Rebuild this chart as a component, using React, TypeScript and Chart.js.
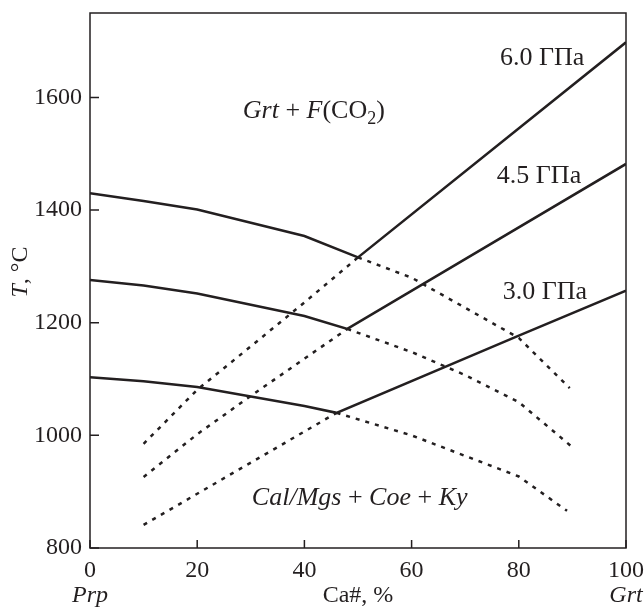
import React, { useEffect, useRef } from "react";
import { Chart, registerables } from "chart.js";

Chart.register(...registerables);

// ---- data ----
const solid60X = [0, 10, 20, 40, 50, 100];
const solid60T = [1430, 1416, 1401, 1354, 1316, 1698];
const solid45X = [0, 10, 20, 40, 48, 100];
const solid45T = [1276, 1266, 1252, 1212, 1189, 1482];
const solid30X = [0, 10, 20, 40, 46, 80, 100];
const solid30T = [1103, 1096, 1086, 1052, 1040, 1177, 1257];

const riseDot60X = [10, 20, 30, 40, 50];
const riseDot60T = [985, 1081, 1158, 1236, 1316];
const riseDot45X = [10, 20, 30, 48];
const riseDot45T = [926, 1002, 1070, 1189];
const riseDot30X = [10, 46];
const riseDot30T = [841, 1040];

const fallDot60X = [50, 60, 80, 89.5];
const fallDot60T = [1316, 1280, 1173, 1084];
const fallDot45X = [48, 60, 70, 80, 90];
const fallDot45T = [1189, 1148, 1107, 1059, 979];
const fallDot30X = [46, 60, 80, 89];
const fallDot30T = [1040, 1000, 927, 866];

const xTicks = [0, 20, 40, 60, 80, 100];
const yTicks = [800, 1000, 1200, 1400, 1600];
const xMin = 0, xMax = 100, yMin = 800, yMax = 1750;

const pressureLabels = ["6.0 ГПа", "4.5 ГПа", "3.0 ГПа"];
const pressureLabelX = [76.5, 75.9, 77];
const pressureLabelT = [1658, 1448, 1242];

type Seg = [string, "i" | "n" | "sub"];
const fieldTop: Seg[] = [["Grt", "i"], [" + ", "n"], ["F", "i"], ["(CO", "n"], ["2", "sub"], [")", "n"]];
const fieldBottom: Seg[] = [["Cal/Mgs", "i"], [" + ", "n"], ["Coe", "i"], [" + ", "n"], ["Ky", "i"]];
const fieldTopPos = [28.5, 1564];
const fieldBottomPos = [30.2, 876];

const xTitle = "Ca#, %";
const xEndLabels = ["Prp", "Grt"];

const INK = "#231f20";
const FONT = "'Liberation Serif', 'Times New Roman', serif";
const FS = 24;
const LFS = 26;

const pts = (xs: number[], ys: number[]) => xs.map((x, i) => ({ x, y: ys[i] }));

function drawRuns(ctx: CanvasRenderingContext2D, segs: Seg[], x: number, y: number) {
  let cx = x;
  for (const [t, s] of segs) {
    if (s === "sub") {
      ctx.font = `${Math.round(LFS * 0.7)}px ${FONT}`;
      ctx.fillText(t, cx, y + 6);
    } else {
      ctx.font = `${s === "i" ? "italic " : ""}${LFS}px ${FONT}`;
      ctx.fillText(t, cx, y);
    }
    cx += ctx.measureText(t).width;
  }
}

const zeroPad = (s: any) => {
  s.paddingTop = 0;
  s.paddingBottom = 0;
  s.paddingLeft = 0;
  s.paddingRight = 0;
};

const decorPlugin = {
  id: "decor",
  afterDraw(chart: any) {
    const { ctx, chartArea: a, scales } = chart;
    const xs = scales.x, ys = scales.y;
    ctx.save();
    ctx.strokeStyle = INK;
    ctx.fillStyle = INK;
    ctx.lineWidth = 1.5;
    ctx.strokeRect(a.left, a.top, a.right - a.left, a.bottom - a.top);
    ctx.beginPath();
    for (const v of xTicks) {
      const px = xs.getPixelForValue(v);
      ctx.moveTo(px, a.bottom);
      ctx.lineTo(px, a.bottom - 8);
    }
    for (const v of yTicks) {
      const py = ys.getPixelForValue(v);
      ctx.moveTo(a.left, py);
      ctx.lineTo(a.left + 9, py);
    }
    ctx.stroke();

    ctx.textBaseline = "alphabetic";
    ctx.textAlign = "left";
    pressureLabels.forEach((t, i) => {
      ctx.font = `${LFS}px ${FONT}`;
      ctx.fillText(t, xs.getPixelForValue(pressureLabelX[i]), ys.getPixelForValue(pressureLabelT[i]));
    });
    drawRuns(ctx, fieldTop, xs.getPixelForValue(fieldTopPos[0]), ys.getPixelForValue(fieldTopPos[1]));
    drawRuns(ctx, fieldBottom, xs.getPixelForValue(fieldBottomPos[0]), ys.getPixelForValue(fieldBottomPos[1]));

    // x-axis title and end-member labels
    ctx.textAlign = "center";
    ctx.textBaseline = "middle";
    ctx.font = `${FS}px ${FONT}`;
    ctx.fillText(xTitle, (a.left + a.right) / 2, a.bottom + 48);
    ctx.font = `italic ${FS}px ${FONT}`;
    ctx.fillText(xEndLabels[0], xs.getPixelForValue(xMin), a.bottom + 48);
    ctx.fillText(xEndLabels[1], xs.getPixelForValue(xMax), a.bottom + 48);

    // y-axis title "T, °C"
    ctx.save();
    ctx.translate(21, 272);
    ctx.rotate(-Math.PI / 2);
    ctx.textAlign = "left";
    const tPart = "T";
    const rest = ", °C";
    ctx.font = `italic ${FS}px ${FONT}`;
    const w1 = ctx.measureText(tPart).width;
    ctx.font = `${FS}px ${FONT}`;
    const w2 = ctx.measureText(rest).width;
    const start = -(w1 + w2) / 2;
    ctx.font = `italic ${FS}px ${FONT}`;
    ctx.fillText(tPart, start, 0);
    ctx.font = `${FS}px ${FONT}`;
    ctx.fillText(rest, start + w1, 0);
    ctx.restore();
    ctx.restore();
  },
};

export default function App() {
  const ref = useRef<HTMLCanvasElement>(null);
  useEffect(() => {
    if (!ref.current) return;
    const solid = { borderColor: INK, borderWidth: 2.5, pointRadius: 0, fill: false, tension: 0 };
    const dotted = { ...solid, borderDash: [4, 6], borderCapStyle: "butt" };
    const chart = new Chart(ref.current, {
      type: "line",
      data: {
        datasets: [
          { ...solid, label: "6.0", data: pts(solid60X, solid60T) },
          { ...solid, label: "4.5", data: pts(solid45X, solid45T) },
          { ...solid, label: "3.0", data: pts(solid30X, solid30T) },
          { ...dotted, label: "r6.0", data: pts(riseDot60X, riseDot60T) },
          { ...dotted, label: "r4.5", data: pts(riseDot45X, riseDot45T) },
          { ...dotted, label: "r3.0", data: pts(riseDot30X, riseDot30T) },
          { ...dotted, label: "f6.0", data: pts(fallDot60X, fallDot60T) },
          { ...dotted, label: "f4.5", data: pts(fallDot45X, fallDot45T) },
          { ...dotted, label: "f3.0", data: pts(fallDot30X, fallDot30T) },
        ] as any,
      },
      options: {
        animation: false,
        responsive: false,
        layout: { autoPadding: false, padding: { left: 0, top: 13, right: 18, bottom: 0 } },
        plugins: { legend: { display: false }, tooltip: { enabled: false } },
        scales: {
          x: {
            type: "linear",
            min: xMin,
            max: xMax,
            grid: { display: false, drawTicks: false },
            border: { display: false },
            afterBuildTicks: (s: any) => { s.ticks = xTicks.map((v) => ({ value: v })); },
            afterFit: (s: any) => { s.height = 59; zeroPad(s); },
            ticks: { color: INK, padding: 8, maxRotation: 0, autoSkip: false, callback: (v: any) => String(v), font: { family: FONT, size: FS } },
          },
          y: {
            type: "linear",
            min: yMin,
            max: yMax,
            grid: { display: false, drawTicks: false },
            border: { display: false },
            afterBuildTicks: (s: any) => { s.ticks = yTicks.map((v) => ({ value: v })); },
            afterFit: (s: any) => { s.width = 90; zeroPad(s); },
            ticks: { color: INK, padding: 8, autoSkip: false, callback: (v: any) => String(v), font: { family: FONT, size: FS } },
          },
        },
      } as any,
      plugins: [decorPlugin],
    });
    return () => chart.destroy();
  }, []);
  return (
    <div style={{ position: "absolute", left: 0, top: 0, width: 644, height: 607, background: "#fff" }}>
      <canvas ref={ref} width={644} height={607} />
    </div>
  );
}
